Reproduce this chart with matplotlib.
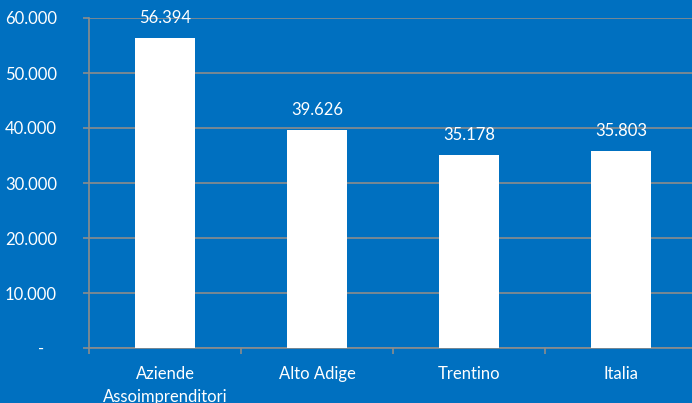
import matplotlib
matplotlib.use("Agg")
import matplotlib.pyplot as plt
from matplotlib.ticker import FixedLocator

categories = ["Aziende\nAssoimprenditori", "Alto Adige", "Trentino", "Italia"]
values = [56394, 39626, 35178, 35803]
value_labels = ["56.394", "39.626", "35.178", "35.803"]
yticks = [0, 10000, 20000, 30000, 40000, 50000, 60000]
ytick_labels = ["-   ", "10.000", "20.000", "30.000", "40.000", "50.000", "60.000"]

BG = "#0070C0"
GRID = "#8C8C8C"
TXT = "#FFFFFF"

plt.rcParams['font.family'] = ['Lato', 'DejaVu Sans']

fig = plt.figure(figsize=(6.92, 4.03), dpi=100, facecolor=BG)
ax = fig.add_axes([89/692, 1-348/403, 608/692, 330/403])
ax.set_facecolor(BG)

x = list(range(len(categories)))
ax.bar(x, values, width=0.4, color="white", zorder=3)

for xi, v, lab in zip(x, values, value_labels):
    ax.annotate(lab, (xi, v), xytext=(0, 8.5), textcoords="offset points",
                ha="center", va="bottom", color=TXT, fontsize=12)

ax.set_xlim(-0.5, len(categories) - 0.5)
ax.set_ylim(0, 60000)
ax.set_yticks(yticks)
ax.set_yticklabels(ytick_labels)
ax.set_xticks(x)
ax.set_xticklabels(categories, linespacing=1.55)
ax.xaxis.set_minor_locator(FixedLocator([i - 0.5 for i in range(len(categories) + 1)]))

ax.yaxis.grid(True, color=GRID, linewidth=1.2, zorder=0)
ax.tick_params(axis="y", which="major", length=4, color=GRID, width=1.2, pad=19,
               labelcolor=TXT, labelsize=12)
ax.tick_params(axis="x", which="major", length=0, pad=13, labelcolor=TXT, labelsize=12)
ax.tick_params(axis="x", which="minor", length=4, color=GRID, width=1.2)

for s in ["top", "right"]:
    ax.spines[s].set_visible(False)
for s in ["left", "bottom"]:
    ax.spines[s].set_color(GRID)
    ax.spines[s].set_linewidth(1.2)

fig.savefig("out.png", dpi=100, facecolor=BG)
